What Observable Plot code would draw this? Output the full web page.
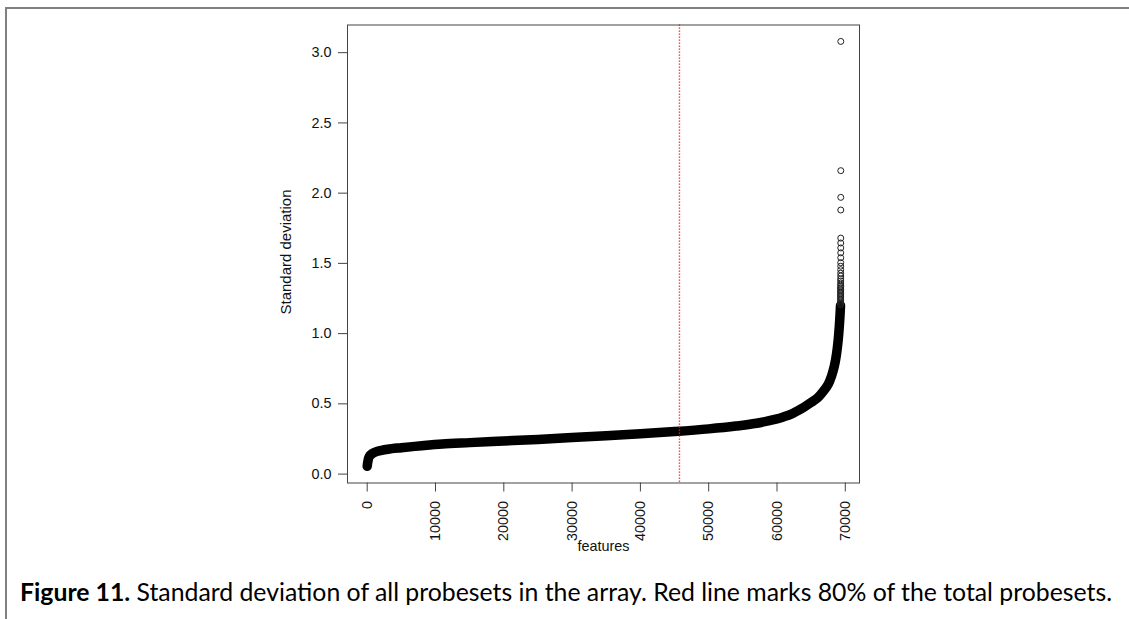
<!DOCTYPE html>
<html>
<head>
<meta charset="utf-8">
<script src="https://cdn.jsdelivr.net/npm/d3@7"></script>
<script src="https://cdn.jsdelivr.net/npm/@observablehq/plot@0.6"></script>
<style>
  html, body { margin: 0; padding: 0; background: #fff; width: 1129px; height: 619px; overflow: hidden; }
  #frame { position: absolute; left: 5px; top: 7px; width: 1200px; height: 700px;
           border-top: 2px solid #808080; border-left: 2px solid #808080; }
  #chart { position: absolute; left: 0; top: 0; }
  #caption { position: absolute; left: 20px; top: 577px; white-space: nowrap;
             font-family: "Lato", "Open Sans", sans-serif; color: #000; }
</style>
</head>
<body>
<div id="frame"></div>
<div id="chart"></div>
<div id="caption"><b>Figure 11.</b> Standard deviation of all probesets in the array. Red line marks 80% of the total probesets.</div>
<script>
// Sorted standard deviations: rank (x) and value (y)
const probesetIndex = [1, 100, 300, 700, 1500, 3000, 5000, 8000, 11000, 15000, 20000, 25000, 30000, 35000, 40000, 45000, 50000, 54000, 57000, 60000, 61000, 62000, 63000, 64000, 65000, 66000, 66800, 67500, 68000, 68400, 68700, 68950, 69150, 69300];
const sdValue      = [0.055, 0.09, 0.125, 0.145, 0.162, 0.177, 0.188, 0.202, 0.214, 0.224, 0.236, 0.247, 0.26, 0.273, 0.287, 0.303, 0.322, 0.342, 0.362, 0.393, 0.408, 0.425, 0.45, 0.478, 0.51, 0.545, 0.59, 0.64, 0.70, 0.77, 0.85, 0.95, 1.07, 1.2];
// Individually visible circles at the top of the sorted list (highest SDs)
const totalProbesets = 69340;
const tailSD = [3.08, 2.16, 1.97, 1.88, 1.68, 1.645, 1.61, 1.575, 1.54, 1.505, 1.48, 1.455, 1.43, 1.41, 1.39, 1.375, 1.36, 1.345, 1.335, 1.325, 1.315, 1.305, 1.295, 1.285, 1.275, 1.265, 1.255, 1.245, 1.235, 1.225, 1.215, 1.205];
const redLineIndex = 45720;
const xTicks = [0, 10000, 20000, 30000, 40000, 50000, 60000, 70000];
const yTicks = [0, 0.5, 1.0, 1.5, 2.0, 2.5, 3.0];
const xLabel = "features";
const yLabel = "Standard deviation";

const curve = probesetIndex.map((i, k) => ({i, sd: sdValue[k]}));
const tail = tailSD.map((sd, k) => ({i: totalProbesets - k, sd}));

const chart = Plot.plot({
  width: 1129,
  height: 560,
  marginLeft: 347,
  marginRight: 270,
  marginTop: 24.5,
  marginBottom: 77.5,
  x: {domain: [-2884, 72079]},
  y: {domain: [-0.0634, 3.197]},
  style: {fontFamily: "'Liberation Sans', Arial, sans-serif", fontSize: "14.4px", color: "#111", background: "transparent", overflow: "visible"},
  marks: [
    Plot.line(curve, {x: "i", y: "sd", stroke: "#000", strokeWidth: 9.5, curve: "catmull-rom", strokeLinecap: "round", strokeLinejoin: "round"}),
    Plot.dot(tail, {x: "i", y: "sd", r: 3, stroke: "#222", strokeWidth: 1, fill: "none"}),
    Plot.ruleX([redLineIndex], {stroke: "#ff1a1a", strokeDasharray: "1.3,1.7", strokeWidth: 1.4}),
    Plot.frame({stroke: "#444"}),
    Plot.axisX(xTicks, {anchor: "bottom", tickSize: 9, tickPadding: 9, tickRotate: -90, tickFormat: d => String(d), label: null, stroke: "#444", fill: "#111"}),
    Plot.axisY(yTicks, {anchor: "left", tickSize: 9, tickPadding: 7, tickFormat: d => d.toFixed(1), label: null, stroke: "#444", fill: "#111"}),
    Plot.text([yLabel], {text: d => d, frameAnchor: "left", textAnchor: "middle", lineAnchor: "middle", dx: -61, dy: -2, rotate: -90, fontSize: 15, fill: "#111"}),
    Plot.text([xLabel], {text: d => d, frameAnchor: "bottom", textAnchor: "middle", lineAnchor: "middle", dy: 63.6, fill: "#111"})
  ]
});
document.getElementById("chart").appendChild(chart);

// fit caption width to the reference (≈1092px)
const cap = document.getElementById("caption");
let fs = 18;
cap.style.fontSize = fs + "px";
const w = cap.getBoundingClientRect().width;
fs = fs * 1092 / w;
cap.style.fontSize = fs.toFixed(2) + "px";
</script>
</body>
</html>
